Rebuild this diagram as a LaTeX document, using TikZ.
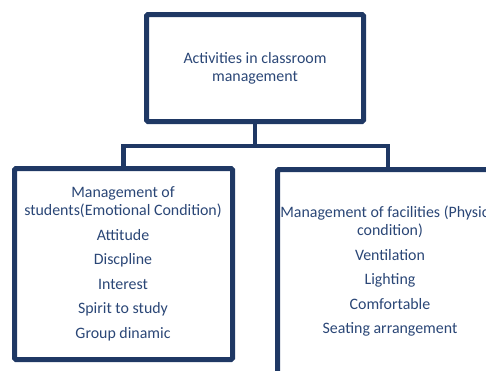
\documentclass[tikz,border=0pt]{standalone}
\usepackage{fontspec}
\setmainfont{Carlito}
\definecolor{navy}{HTML}{1F3864}
\definecolor{navytext}{HTML}{2A4676}
\begin{document}
\begin{tikzpicture}[x=1pt,y=-1pt,
  box/.style={draw=navy,line width=5pt,rounded corners=1.5pt,inner sep=0pt,outer sep=0pt},
  lbl/.style={text=navytext,font=\fontsize{15.9}{18}\selectfont,align=center,inner sep=0pt},
  link/.style={draw=navy,line width=4.5pt}]
\useasboundingbox (0,0) rectangle (486,370);
\clip (0,0) rectangle (486,370);
\node[box,minimum width=217pt,minimum height=107pt] (top) at (255,68) {};
\node[lbl] (toptext) at (255,68) {Activities in classroom\\management};
\node[box,minimum width=218pt,minimum height=191pt] (left) at (123.5,264) {};
\node[lbl] (lefttext) at (123,264) {Management of\\students(Emotional Condition)\\[6.5pt]Attitude\\[6.5pt]Discpline\\[6.5pt]Interest\\[6.5pt]Spirit to study\\[6.5pt]Group dinamic};
\node[box,minimum width=221pt,minimum height=250pt] (right) at (388,294.5) {};
\node[lbl] (righttext) at (390,271.5) {Management of facilities (Physical\\condition)\\[6.5pt]Ventilation\\[6.5pt]Lighting\\[6.5pt]Comfortable\\[6.5pt]Seating arrangement};
\coordinate (bar) at (255,146);
\draw[link] (top.south) -- (bar);
\draw[link] (left.north) |- (bar) -| (right.north);
\end{tikzpicture}
\end{document}
